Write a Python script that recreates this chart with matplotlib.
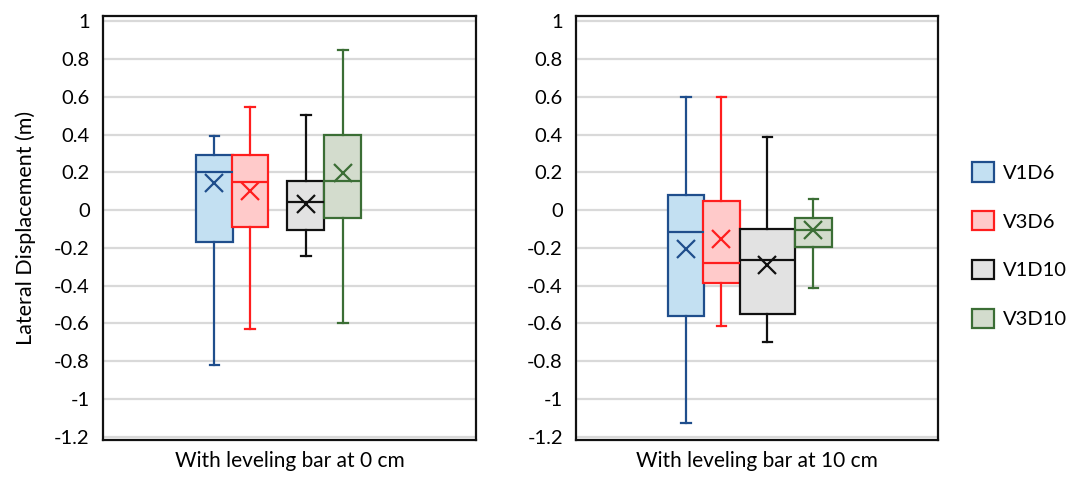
import matplotlib
matplotlib.use("Agg")
import matplotlib.pyplot as plt
from matplotlib.patches import Patch

plt.rcParams['font.family'] = ['Lato', 'DejaVu Sans']

series = ["V1D6", "V3D6", "V1D10", "V3D10"]
edge_colors = ["#1F4E8C", "#FF1E1E", "#111111", "#3B6E35"]
fill_colors = ["#C3E0F2", "#FFCACA", "#E2E2E2", "#D3DCCD"]
panel_titles = ["With leveling bar at 0 cm", "With leveling bar at 10 cm"]

# five-number summaries + mean, per panel, per series
whislo_0 = [-0.82, -0.63, -0.242, -0.60]
q1_0 = [-0.167, -0.088, -0.105, -0.044]
med_0 = [0.20, 0.147, 0.042, 0.156]
q3_0 = [0.293, 0.293, 0.156, 0.398]
whishi_0 = [0.39, 0.546, 0.505, 0.85]
mean_0 = [0.144, 0.10, 0.032, 0.198]

whislo_10 = [-1.126, -0.616, -0.699, -0.414]
q1_10 = [-0.559, -0.386, -0.55, -0.195]
med_10 = [-0.117, -0.28, -0.265, -0.106]
q3_10 = [0.081, 0.05, -0.099, -0.044]
whishi_10 = [0.60, 0.60, 0.389, 0.06]
mean_10 = [-0.205, -0.152, -0.292, -0.106]

yticks = [1, 0.8, 0.6, 0.4, 0.2, 0, -0.2, -0.4, -0.6, -0.8, -1, -1.2]

panels = [
    (whislo_0, q1_0, med_0, q3_0, whishi_0, mean_0),
    (whislo_10, q1_10, med_10, q3_10, whishi_10, mean_10),
]

# layout (axes fractions)
positions = [[0.298, 0.394, 0.544, 0.643], [0.304, 0.402, 0.529, 0.656]]
widths = [[0.099, 0.099, 0.099, 0.099], [0.0995, 0.102, 0.152, 0.102]]
axes_rects = [[0.0946, 0.0814, 0.3425, 0.8852], [0.529, 0.0814, 0.332, 0.8852]]

fig = plt.figure(figsize=(10.89, 4.79), dpi=100)
for p, (lo, q1, med, q3, hi, mn) in enumerate(panels):
    ax = fig.add_axes(axes_rects[p])
    for i in range(len(series)):
        st = [dict(whislo=lo[i], q1=q1[i], med=med[i], q3=q3[i], whishi=hi[i],
                   mean=mn[i], fliers=[], label=series[i])]
        c = edge_colors[i]
        ax.bxp(st, positions=[positions[p][i]], widths=[widths[p][i]],
               showmeans=True, patch_artist=True, manage_ticks=False,
               boxprops=dict(facecolor=fill_colors[i], edgecolor=c, linewidth=1.6),
               medianprops=dict(color=c, linewidth=1.6),
               whiskerprops=dict(color=c, linewidth=1.6),
               capprops=dict(color=c, linewidth=1.6),
               capwidths=[0.025],
               meanprops=dict(marker='x', markersize=13, markeredgecolor=c,
                              markeredgewidth=1.6, markerfacecolor=c),
               zorder=3)
    ax.set_xlim(0, 1)
    ax.set_ylim(-1.218, 1.028)
    ax.set_yticks(yticks)
    ax.set_yticklabels([f"{t:g}" for t in yticks], fontsize=14.5)
    ax.set_xticks([])
    ax.tick_params(axis='y', length=0, pad=9.5)
    ax.yaxis.grid(True, color="#D9D9D9", linewidth=1.6, zorder=0)
    ax.set_axisbelow(True)
    for s in ax.spines.values():
        s.set_linewidth(1.6)
        s.set_color("#111111")
    ax.set_xlabel(panel_titles[p], fontsize=15, labelpad=8)
    if p == 0:
        ax.set_ylabel("Lateral Displacement (m)", fontsize=15.5, labelpad=13)

handles = [Patch(facecolor=fill_colors[i], edgecolor=edge_colors[i], linewidth=1.6,
                 label=series[i]) for i in range(len(series))]
fig.legend(handles=handles, loc="center left", bbox_to_anchor=(0.876, 0.488),
           frameon=False, fontsize=14.5, handlelength=1.1, handleheight=1.1,
           labelspacing=1.45, handletextpad=0.45)

fig.savefig("out.png", dpi=100)
